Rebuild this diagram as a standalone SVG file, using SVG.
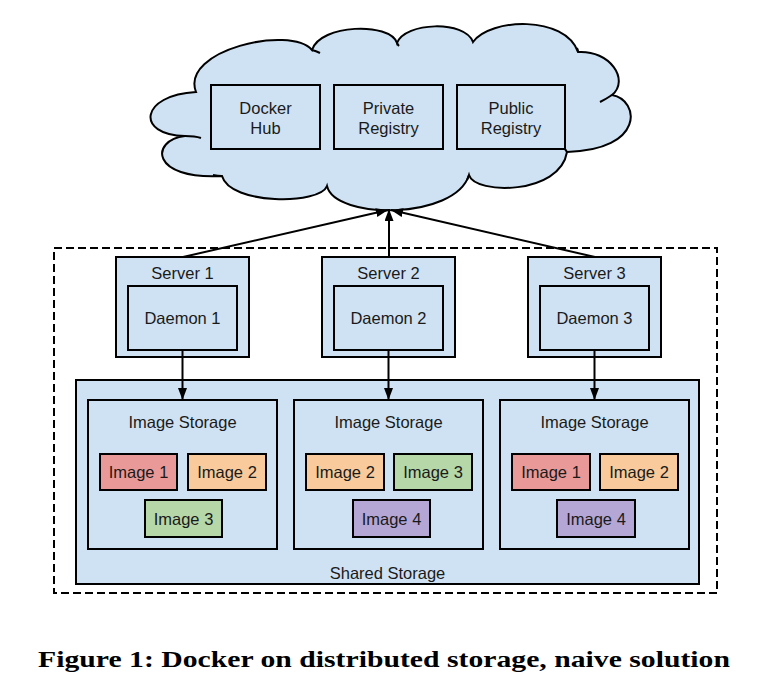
<svg xmlns="http://www.w3.org/2000/svg" width="763" height="689" viewBox="0 0 763 689">
  <defs>
    <marker id="arrow" markerUnits="userSpaceOnUse" markerWidth="12" markerHeight="10" refX="12" refY="4.5" orient="auto">
      <path d="M0,0 L12,4.5 L0,9 z" fill="#000"/>
    </marker>
  </defs>
  <style>
    .box { fill: #cfe2f3; stroke: #000; stroke-width: 2; }
    .img1 { fill: #ea9999; stroke: #000; stroke-width: 2; }
    .img2 { fill: #f9cb9c; stroke: #000; stroke-width: 2; }
    .img3 { fill: #b6d7a8; stroke: #000; stroke-width: 2; }
    .img4 { fill: #b4a7d6; stroke: #000; stroke-width: 2; }
    .t { font-family: "Liberation Sans", Arial, sans-serif; font-size: 16.5px; fill: #1a1a1a; text-anchor: middle; }
    .edge { stroke: #000; stroke-width: 2; fill: none; marker-end: url(#arrow); }
    .cap { font-family: "Liberation Serif", "Times New Roman", serif; font-weight: bold; font-size: 23px; fill: #000; }
  </style>
  <rect width="763" height="689" fill="#fff"/>

  <g id="cloud">
    <path class="box" d="M196,92 C180,50 290,25 312,50 C320,24 390,22 397,43 C405,22 465,20 473,42 C490,18 565,15 578,52 C610,50 630,80 612,95 C640,100 645,150 567,152 C560,195 475,195 469,175 C455,220 335,220 327,186 C320,205 230,205 222,176 C150,180 150,140 185,136 C135,135 140,95 196,92 Z"/>
    <path d="M185,136 Q195,136 201,138 M222,176 Q218,176 213,175 M312,50 Q316,51 320,53 M397,43 Q398,45 399,46 M469,175 Q468,178 467,180 M567,152 Q566,150 564,148 M612,95 Q606,99 600,102 M578,52 Q578,50 577,48" fill="none" stroke="#000" stroke-width="2"/>
    <g id="docker-hub">
      <rect class="box" x="211" y="85" width="109" height="64"/>
      <text class="t" x="265.5" y="113.5">Docker</text>
      <text class="t" x="265.5" y="134">Hub</text>
    </g>
    <g id="private-registry">
      <rect class="box" x="334" y="85" width="109" height="64"/>
      <text class="t" x="388.5" y="113.5">Private</text>
      <text class="t" x="388.5" y="134">Registry</text>
    </g>
    <g id="public-registry">
      <rect class="box" x="457" y="85" width="108" height="64"/>
      <text class="t" x="511" y="113.5">Public</text>
      <text class="t" x="511" y="134">Registry</text>
    </g>
  </g>

  <g id="cluster">
    <rect x="54" y="248" width="663" height="345" fill="none" stroke="#000" stroke-width="2" stroke-dasharray="8 4"/>
  </g>

  <g id="server1">
    <rect class="box" x="116" y="257" width="133" height="100"/>
    <text class="t" x="182.5" y="279">Server 1</text>
    <g id="daemon1">
      <rect class="box" x="128" y="286" width="109" height="64"/>
      <text class="t" x="182.5" y="324">Daemon 1</text>
    </g>
  </g>
  <g id="server2">
    <rect class="box" x="322" y="257" width="133" height="100"/>
    <text class="t" x="388.5" y="279">Server 2</text>
    <g id="daemon2">
      <rect class="box" x="334" y="286" width="109" height="64"/>
      <text class="t" x="388.5" y="324">Daemon 2</text>
    </g>
  </g>
  <g id="server3">
    <rect class="box" x="528" y="257" width="133" height="100"/>
    <text class="t" x="594.5" y="279">Server 3</text>
    <g id="daemon3">
      <rect class="box" x="540" y="286" width="109" height="64"/>
      <text class="t" x="594.5" y="324">Daemon 3</text>
    </g>
  </g>

  <g id="shared-storage">
    <rect class="box" x="76" y="380" width="623" height="204"/>
    <text class="t" x="387.5" y="578.5">Shared Storage</text>
  </g>

  <g id="image-storage1">
    <rect class="box" x="88" y="400" width="189" height="149"/>
    <text class="t" x="182.5" y="427.5">Image Storage</text>
    <g id="s1-image1"><rect class="img1" x="100" y="454" width="77" height="36"/><text class="t" x="138.5" y="478">Image 1</text></g>
    <g id="s1-image2"><rect class="img2" x="188" y="454" width="78" height="36"/><text class="t" x="227" y="478">Image 2</text></g>
    <g id="s1-image3"><rect class="img3" x="145" y="500" width="77" height="37"/><text class="t" x="183.5" y="525">Image 3</text></g>
  </g>
  <g id="image-storage2">
    <rect class="box" x="294" y="400" width="189" height="149"/>
    <text class="t" x="388.5" y="427.5">Image Storage</text>
    <g id="s2-image2"><rect class="img2" x="306" y="454" width="78" height="36"/><text class="t" x="345" y="478">Image 2</text></g>
    <g id="s2-image3"><rect class="img3" x="394" y="454" width="78" height="36"/><text class="t" x="433" y="478">Image 3</text></g>
    <g id="s2-image4"><rect class="img4" x="353" y="500" width="77" height="37"/><text class="t" x="391.5" y="525">Image 4</text></g>
  </g>
  <g id="image-storage3">
    <rect class="box" x="500" y="400" width="189" height="149"/>
    <text class="t" x="594.5" y="427.5">Image Storage</text>
    <g id="s3-image1"><rect class="img1" x="512" y="454" width="78" height="36"/><text class="t" x="551" y="478">Image 1</text></g>
    <g id="s3-image2"><rect class="img2" x="600" y="454" width="78" height="36"/><text class="t" x="639" y="478">Image 2</text></g>
    <g id="s3-image4"><rect class="img4" x="557" y="500" width="78" height="37"/><text class="t" x="596" y="525">Image 4</text></g>
  </g>

  <g id="connectors">
    <line class="edge" x1="183" y1="257" x2="388" y2="210"/>
    <line class="edge" x1="389" y1="257" x2="389" y2="209"/>
    <line class="edge" x1="595" y1="257" x2="391" y2="210"/>
    <line class="edge" x1="182.5" y1="350" x2="182.5" y2="400"/>
    <line class="edge" x1="388.5" y1="350" x2="388.5" y2="400"/>
    <line class="edge" x1="594.5" y1="350" x2="594.5" y2="400"/>
  </g>

  <text class="cap" x="38" y="667" textLength="692" lengthAdjust="spacingAndGlyphs">Figure 1: Docker on distributed storage, naive solution</text>
</svg>
